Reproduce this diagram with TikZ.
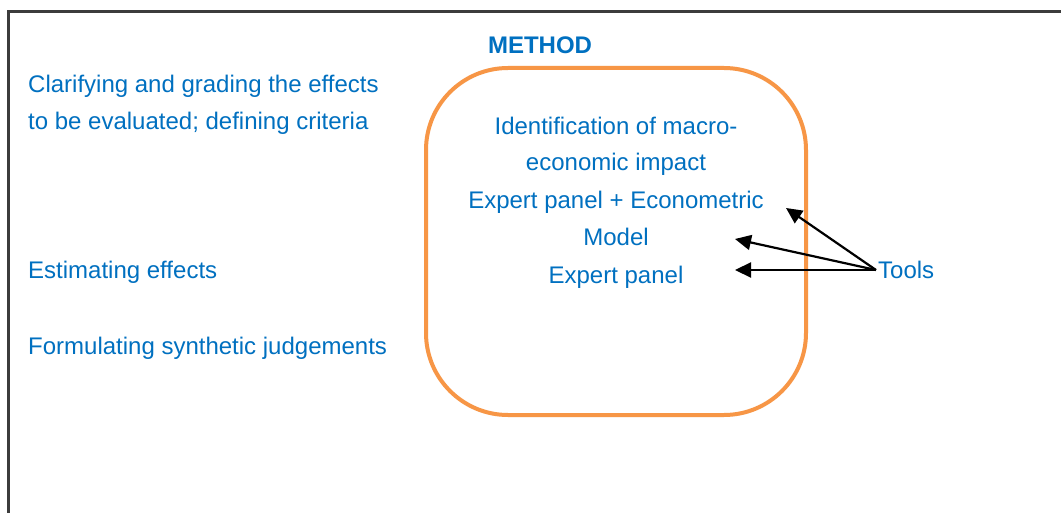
\documentclass[tikz,border=0pt]{standalone}
\usepackage{fontspec}
\setmainfont{Liberation Sans}
\usetikzlibrary{arrows.meta}
\definecolor{txtblue}{HTML}{0070C0}
\definecolor{boxorange}{HTML}{F79646}
\definecolor{framegray}{HTML}{3C3C3C}
\begin{document}
\begin{tikzpicture}[x=1pt,y=-1pt,
  lbl/.style={text=txtblue, font=\fontsize{24}{28}\selectfont, inner sep=0pt},
  lblL/.style={lbl, anchor=base west},
  lblC/.style={lbl, anchor=base},
  tip/.style={draw=black, line width=2.2pt, -{Triangle[length=16pt,width=15pt]}}]
  \useasboundingbox (0,0) rectangle (1061,513);
  \fill[white] (0,0) rectangle (1061,513);
  % outer frame (open to the right and bottom)
  \draw[framegray, line width=2.2pt] (8.5,513) -- (8.5,11.5) -- (1061,11.5);
  % method box
  \node[draw=boxorange, line width=4pt, rounded corners=82pt,
        minimum width=380pt, minimum height=347pt, inner sep=0pt] (box) at (616,241.5) {};
  \node[lblC, font=\fontsize{24}{28}\selectfont\bfseries] (method) at (540,54) {METHOD};
  % steps on the left
  \node[lblL] (s1a) at (28,93) {Clarifying and grading the effects};
  \node[lblL] (s1b) at (28,130) {to be evaluated; defining criteria};
  \node[lblL] (s2) at (28,279) {Estimating effects};
  \node[lblL] (s3) at (28,354) {Formulating synthetic judgements};
  % contents of the method box
  \node[lblC] (m1a) at (616,135) {Identification of macro-};
  \node[lblC] (m1b) at (616,171) {economic impact};
  \node[lblC] (m2a) at (616,209) {Expert panel + Econometric};
  \node[lblC] (m2b) at (616,246) {Model};
  \node[lblC] (m3) at (616,284) {Expert panel};
  % tools label and its arrows
  \node[lblL] (tools) at (878,279) {Tools};
  \coordinate (src) at (876,270);
  \coordinate (t1) at (786,208);
  \coordinate (t2) at (735,239);
  \coordinate (t3) at (735,270);
  \draw[tip] (src) -- (t1);
  \draw[tip] (src) -- (t2);
  \draw[tip] (src) -- (t3);
\end{tikzpicture}
\end{document}
